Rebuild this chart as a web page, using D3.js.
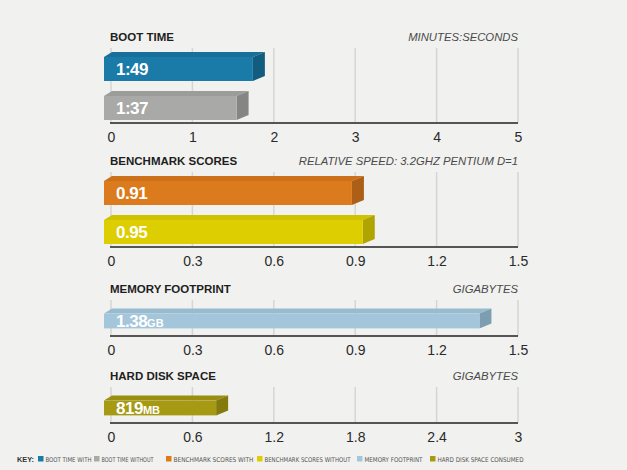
<!DOCTYPE html>
<html>
<head>
<meta charset="utf-8">
<script src="https://cdn.jsdelivr.net/npm/d3@7"></script>
<style>
  html, body { margin: 0; padding: 0; background: #f1f1ef; }
  svg { display: block; font-family: "Liberation Sans", Arial, sans-serif; }
</style>
</head>
<body>
<div id="chart"></div>
<script>
// ---- data ----
var panelTitles = ["BOOT TIME", "BENCHMARK SCORES", "MEMORY FOOTPRINT", "HARD DISK SPACE"];
var panelUnits = ["MINUTES:SECONDS", "RELATIVE SPEED: 3.2GHZ PENTIUM D=1", "GIGABYTES", "GIGABYTES"];
var panelMax = [5, 1.5, 1.5, 3];
var bootTicks = [0, 1, 2, 3, 4, 5];
var benchTicks = [0, 0.3, 0.6, 0.9, 1.2, 1.5];
var memoryTicks = [0, 0.3, 0.6, 0.9, 1.2, 1.5];
var diskTicks = [0, 0.6, 1.2, 1.8, 2.4, 3];
var bootSeries = ["Boot time with", "Boot time without"];
var bootValues = [109 / 60, 97 / 60];          // minutes
var bootLabels = ["1:49", "1:37"];
var benchSeries = ["Benchmark scores with", "Benchmark scores without"];
var benchValues = [0.91, 0.95];
var benchLabels = ["0.91", "0.95"];
var memorySeries = ["Memory footprint"];
var memoryValues = [1.38];
var memoryLabels = ["1.38"];
var diskSeries = ["Hard disk space consumed"];
var diskValues = [0.819];                      // gigabytes
var diskLabels = ["819"];
var legendLabels = ["BOOT TIME WITH", "BOOT TIME WITHOUT", "BENCHMARK SCORES WITH",
                    "BENCHMARK SCORES WITHOUT", "MEMORY FOOTPRINT", "HARD DISK SPACE CONSUMED"];

// ---- styles ----
var colors = {
  "Boot time with": {front: "#1a7aa8", top: "#176f9a", side: "#125c80"},
  "Boot time without": {front: "#a9aaa8", top: "#9c9d9b", side: "#858684"},
  "Benchmark scores with": {front: "#dc7b1d", top: "#cc701a", side: "#ad5f18"},
  "Benchmark scores without": {front: "#dcce00", top: "#cfc200", side: "#b0a400"},
  "Memory footprint": {front: "#a3c6da", top: "#98bbcf", side: "#7d9db0"},
  "Hard disk space consumed": {front: "#a69a13", top: "#9a8e10", side: "#847a0e"}
};
var legendColors = ["#1a7aa8", "#a9aaa8", "#dc7b1d", "#dcce00", "#a3c6da", "#a69a13"];
// legend layout (square x, text width)
var legendX = [38, 94, 166, 257, 357, 430];
var legendW = [46, 52, 80, 86, 58, 86];

var width = 627, height = 470;
var panels = [
  {series: bootSeries, values: bootValues, labels: bootLabels, ticks: bootTicks, suffix: "", titleY: 37, axisY: 123},
  {series: benchSeries, values: benchValues, labels: benchLabels, ticks: benchTicks, suffix: "", titleY: 161, axisY: 247},
  {series: memorySeries, values: memoryValues, labels: memoryLabels, ticks: memoryTicks, suffix: "GB", titleY: 289, axisY: 336},
  {series: diskSeries, values: diskValues, labels: diskLabels, ticks: diskTicks, suffix: "MB", titleY: 376, axisY: 423}
];

var svg = d3.select("#chart").append("svg")
  .attr("width", width)
  .attr("height", height);
svg.append("rect").attr("width", width).attr("height", height).attr("fill", "#f1f1ef");

var left = 111, right = 518;
var depthX = 12, depthY = 5, bevel = 8;

panels.forEach(function(p, i) {
  var g = svg.append("g");
  var xScale = d3.scaleLinear().domain([0, panelMax[i]]).range([left, right]);
  var n = p.series.length;
  var bottom = p.axisY - 3;
  var yScale = d3.scaleBand()
    .domain(p.series)
    .range([bottom - (39 * n - 15), bottom])
    .paddingInner(15 / 39)
    .paddingOuter(0);

  // gridlines
  g.selectAll("line.grid").data(p.ticks).enter().append("line")
    .attr("class", "grid")
    .attr("x1", function(d) { return xScale(d); })
    .attr("x2", function(d) { return xScale(d); })
    .attr("y1", p.titleY + 11)
    .attr("y2", p.axisY)
    .attr("stroke", "#d5d5d3")
    .attr("stroke-width", 1.5);

  // titles
  g.append("text")
    .attr("x", 110).attr("y", p.titleY + 4)
    .attr("font-size", 11.5).attr("font-weight", "bold")
    .attr("fill", "#1e1e1e")
    .text(panelTitles[i]);
  g.append("text")
    .attr("x", right).attr("y", p.titleY + 4)
    .attr("text-anchor", "end")
    .attr("font-size", 11.3).attr("font-style", "italic")
    .attr("fill", "#4a4a4a")
    .text(panelUnits[i]);

  // bars
  var bars = g.selectAll("g.bar").data(p.series).enter().append("g").attr("class", "bar");
  bars.each(function(s, j) {
    var b = d3.select(this);
    var y0 = yScale(s), h = yScale.bandwidth();
    var xEnd = xScale(p.values[j]) - 6;
    var x0 = 104;
    var c = colors[s];
    b.append("path")
      .attr("d", "M" + x0 + "," + y0 + "L" + (x0 + bevel) + "," + (y0 - depthY) +
                 "L" + (xEnd + depthX) + "," + (y0 - depthY) + "L" + xEnd + "," + y0 + "Z")
      .attr("fill", c.top);
    b.append("path")
      .attr("d", "M" + xEnd + "," + y0 + "L" + (xEnd + depthX) + "," + (y0 - depthY) +
                 "L" + (xEnd + depthX) + "," + (y0 + h - depthY) + "L" + xEnd + "," + (y0 + h) + "Z")
      .attr("fill", c.side);
    b.append("rect")
      .attr("x", x0).attr("y", y0)
      .attr("width", xEnd - x0).attr("height", h)
      .attr("fill", c.front);
    var t = b.append("text")
      .attr("x", 116).attr("y", y0 + h / 2 + 6)
      .attr("font-size", 17).attr("font-weight", "bold")
      .attr("fill", "#ffffff")
      .attr("letter-spacing", -0.5)
      .text(p.labels[j]);
    if (p.suffix) {
      t.append("tspan").attr("font-size", 11).attr("letter-spacing", 0).text(p.suffix);
    }
  });

  // axis
  g.append("line")
    .attr("x1", left - 1).attr("x2", right)
    .attr("y1", p.axisY).attr("y2", p.axisY)
    .attr("stroke", "#555").attr("stroke-width", 2);
  var axis = d3.axisBottom(xScale)
    .tickValues(p.ticks)
    .tickSize(0)
    .tickPadding(9)
    .tickFormat(function(d) { return String(d); });
  var ag = g.append("g").attr("transform", "translate(0," + p.axisY + ")").call(axis);
  ag.select(".domain").remove();
  ag.selectAll("text")
    .attr("font-size", 14)
    .attr("font-family", "'Liberation Sans', Arial, sans-serif")
    .attr("fill", "#2a2a2a");
});

// legend
var lg = svg.append("g").attr("transform", "translate(0,462)");
lg.append("text").attr("x", 17).attr("y", 0)
  .attr("font-size", 6.5).attr("font-weight", "bold").attr("fill", "#333")
  .attr("textLength", 17).attr("lengthAdjust", "spacingAndGlyphs")
  .text("KEY:");
legendLabels.forEach(function(l, i) {
  lg.append("rect").attr("x", legendX[i]).attr("y", -6).attr("width", 5.5).attr("height", 5.5)
    .attr("fill", legendColors[i]);
  lg.append("text").attr("x", legendX[i] + 7.5).attr("y", 0)
    .attr("font-size", 6.5)
    .attr("font-family", "'Liberation Sans Narrow', 'DejaVu Sans Condensed', sans-serif")
    .attr("fill", "#555")
    .attr("textLength", legendW[i]).attr("lengthAdjust", "spacingAndGlyphs")
    .text(l);
});
</script>
</body>
</html>
